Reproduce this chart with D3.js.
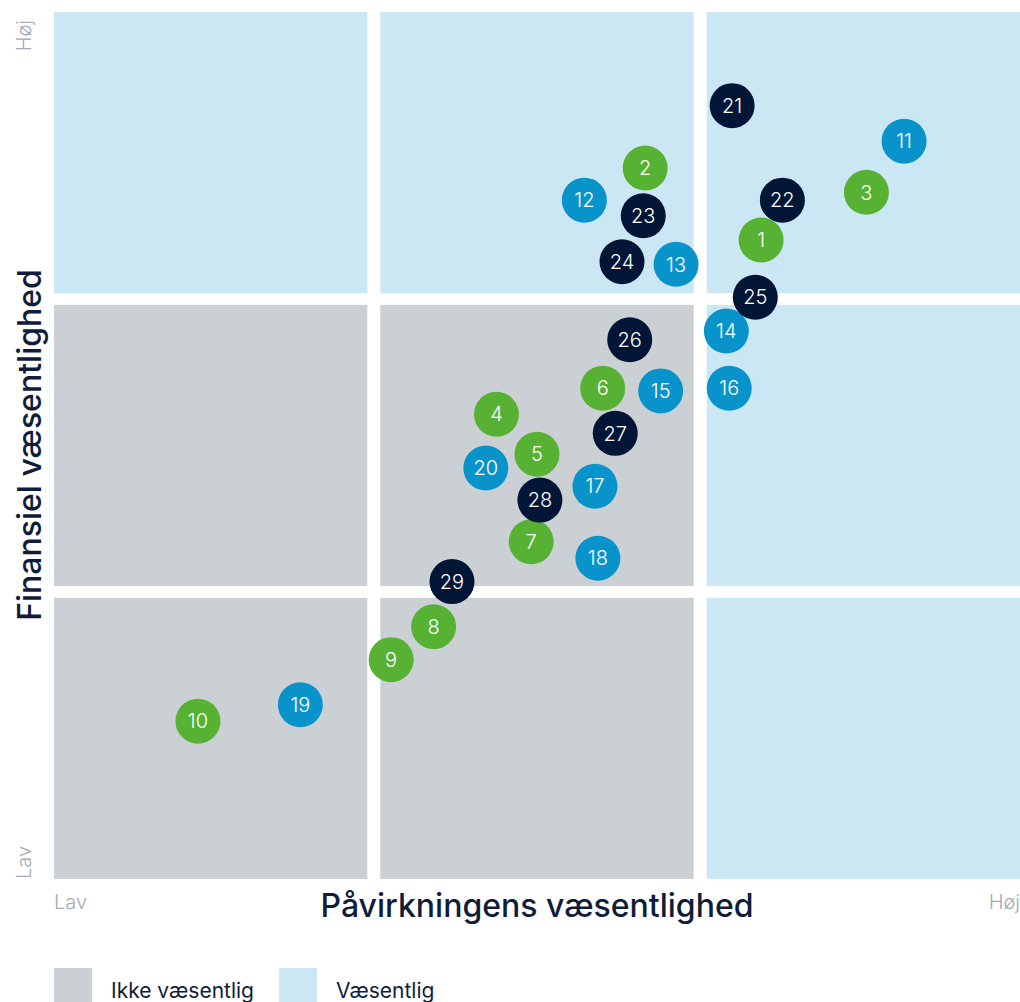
<!DOCTYPE html>
<html>
<head>
<meta charset="utf-8">
<script src="https://cdn.jsdelivr.net/npm/d3@7"></script>
<style>
  body { margin: 0; background: #fff; font-family: Inter, "Noto Sans", sans-serif; }
</style>
</head>
<body>
<svg id="chart" width="1020" height="1002"></svg>
<script>
// quadrant grid: 3x3 cells, value 1 = væsentlig
const cellCols = [0, 1, 2];
const cellRows = [0, 1, 2];
const cellMaterial = [
  [0, 0, 1],   // bottom row
  [0, 0, 1],   // middle row
  [1, 1, 1]    // top row
];

const ids = [1,2,3,4,5,6,7,8,9,10,11,12,13,14,15,16,17,18,19,20,21,22,23,24,25,26,27,28,29];
const impact = [73.2,61.2,84.1,45.8,50.0,56.8,49.4,39.3,34.9,14.9,88.0,54.9,64.4,69.6,62.8,69.9,56.0,56.3,25.5,44.7,70.2,75.4,61.0,58.8,72.6,59.6,58.1,50.3,41.2];
const financial = [73.7,82.0,79.2,53.6,49.0,56.6,38.9,29.1,25.3,18.2,85.1,78.3,70.9,63.2,56.3,56.6,45.3,37.0,20.1,47.4,89.2,78.3,76.5,71.2,67.1,62.2,51.4,43.7,34.3];
const groups = ["E","E","E","E","E","E","E","E","E","E","S","S","S","S","S","S","S","S","S","S","G","G","G","G","G","G","G","G","G"];

const legendLabels = ["Ikke væsentlig", "Væsentlig"];

const groupColor = d3.scaleOrdinal().domain(["E","S","G"]).range(["#57b133","#0894ca","#011636"]);
const cellColor = d3.scaleOrdinal().domain([0,1]).range(["#cbd0d4","#cce7f4"]);

const svg = d3.select("#chart");
const pLeft = 54, pRight = 1020, pTop = 12, pBottom = 879;
const x = d3.scaleLinear().domain([0, 100]).range([pLeft, pRight]);
const y = d3.scaleLinear().domain([0, 100]).range([pBottom, pTop]);
const band = d3.scaleBand().domain(cellCols).range([pLeft, pRight]).paddingInner(0.04);
const bandY = d3.scaleBand().domain(cellRows).range([pTop, pBottom]).paddingInner(0.04);

const cells = [];
cellRows.forEach(r => cellCols.forEach(c => cells.push({r, c, v: cellMaterial[r][c]})));
svg.append("g").selectAll("rect").data(cells).enter().append("rect")
  .attr("x", d => band(d.c))
  .attr("y", d => bandY(2 - d.r))
  .attr("width", band.bandwidth())
  .attr("height", bandY.bandwidth())
  .attr("fill", d => cellColor(d.v));

// points
const pts = ids.map((id, i) => ({id, x: impact[i], y: financial[i], g: groups[i]}));
const node = svg.append("g").selectAll("g").data(pts).enter().append("g")
  .attr("transform", d => `translate(${x(d.x)},${y(d.y)})`);
node.append("circle").attr("r", 22.5).attr("fill", d => groupColor(d.g));
node.append("text")
  .attr("text-anchor", "middle").attr("dy", "0.36em")
  .attr("fill", "#fff").attr("font-size", 20).attr("font-weight", 300)
  .text(d => d.id);

// axis titles
const grey = "#a3aab5", navy = "#0f1d3a";
svg.append("text").attr("x", 537).attr("y", 917).attr("text-anchor", "middle")
  .attr("font-size", 32).attr("font-weight", 500).attr("fill", navy)
  .text("Påvirkningens væsentlighed");
svg.append("text").attr("transform", "translate(41,445) rotate(-90)").attr("text-anchor", "middle")
  .attr("font-size", 32).attr("font-weight", 500).attr("fill", navy)
  .text("Finansiel væsentlighed");

svg.append("text").attr("x", pLeft).attr("y", 909).attr("font-size", 20).attr("font-weight", 300).attr("fill", grey).text("Lav");
svg.append("text").attr("x", pRight).attr("y", 909).attr("text-anchor", "end").attr("font-size", 20).attr("font-weight", 300).attr("fill", grey).text("Høj");
svg.append("text").attr("transform", `translate(31,${pBottom}) rotate(-90)`).attr("font-size", 20).attr("font-weight", 300).attr("fill", grey).text("Lav");
svg.append("text").attr("transform", `translate(31,${pTop + 8}) rotate(-90)`).attr("text-anchor", "end").attr("font-size", 20).attr("font-weight", 300).attr("fill", grey).text("Høj");

// legend
const lg = svg.append("g").selectAll("g").data(legendLabels).enter().append("g")
  .attr("transform", (d, i) => `translate(${54 + i * 225},968)`);
lg.append("rect").attr("width", 38).attr("height", 38).attr("fill", (d, i) => cellColor(i));
lg.append("text").attr("x", 57).attr("y", 30).attr("font-size", 21).attr("fill", navy).text(d => d);
</script>
</body>
</html>
